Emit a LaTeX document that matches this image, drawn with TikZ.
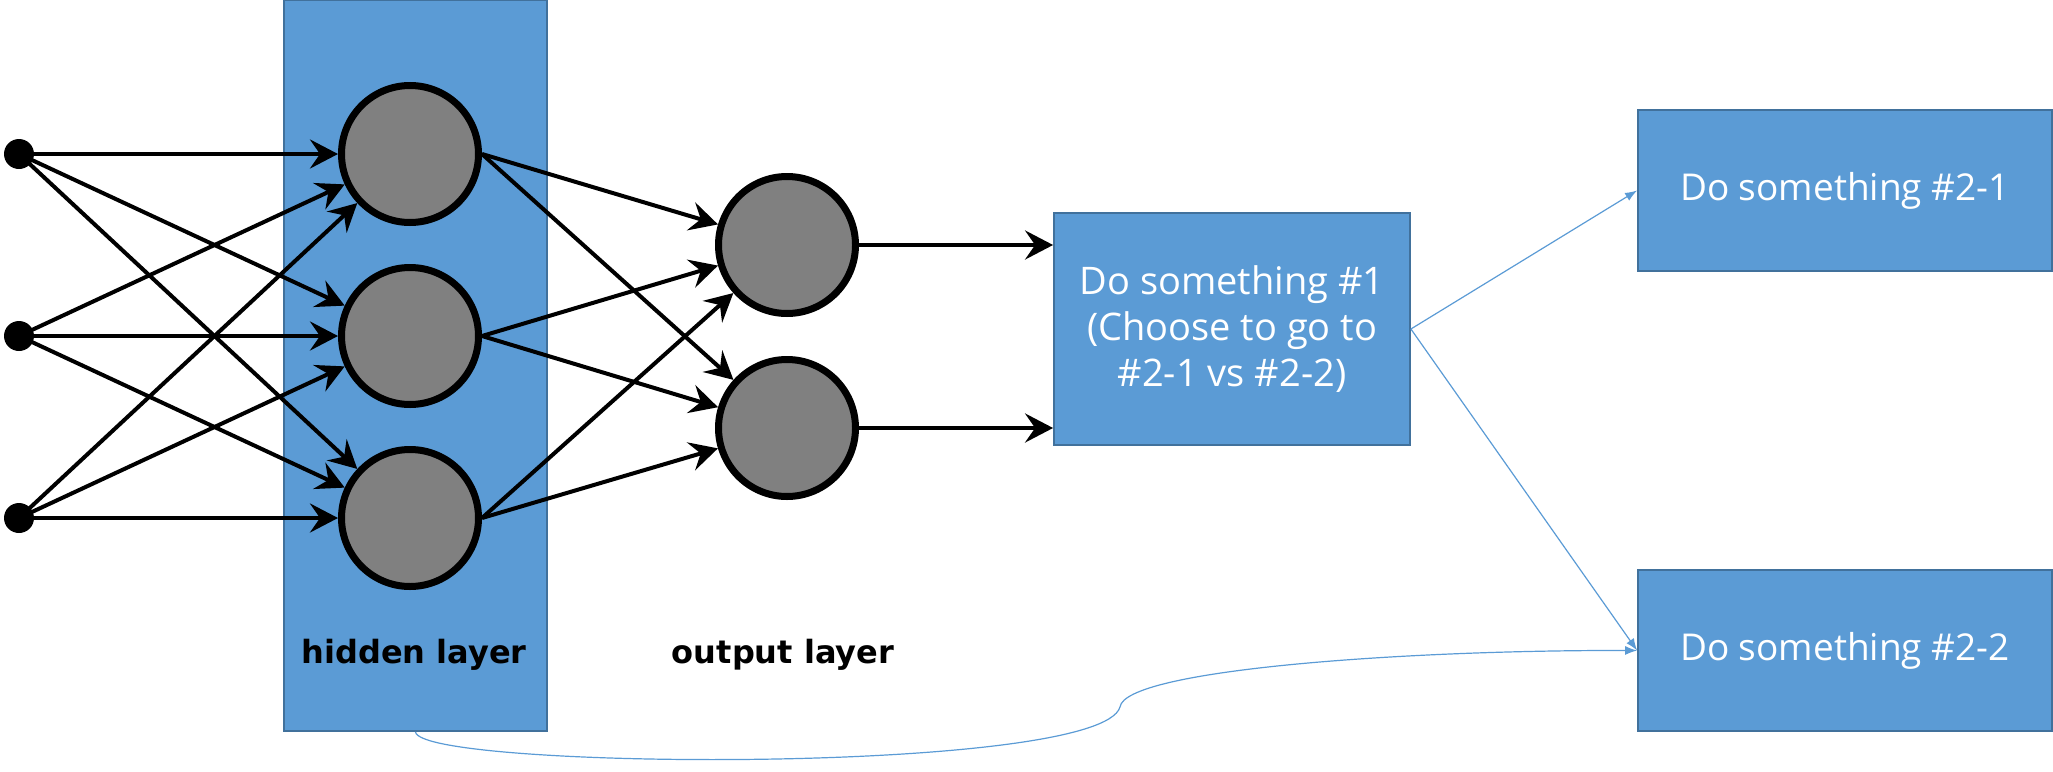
\documentclass[tikz,border=0pt]{standalone}
\usepackage{fontspec}
\setmainfont{Open Sans}
\newfontfamily\lblfont{DejaVu Sans}
\usetikzlibrary{arrows.meta}
\definecolor{boxblue}{HTML}{5B9BD5}
\definecolor{boxedge}{HTML}{41719C}
\definecolor{nodegray}{HTML}{808080}
\begin{document}
\begin{tikzpicture}[x=1pt,y=-1pt,
  neuron/.style={circle,draw=black,fill=nodegray,line width=7pt,minimum size=137pt,inner sep=0pt},
  inp/.style={circle,fill=black,minimum size=30pt,inner sep=0pt},
  conn/.style={line width=4pt,-{Stealth[length=28pt,width=29pt,inset=10pt]}},
  bluebox/.style={rectangle,draw=boxedge,fill=boxblue,line width=1.8pt,inner sep=0pt},
  boxtext/.style={text=white,font=\fontsize{37}{46}\selectfont,align=center},
  bluelink/.style={draw=boxblue,line width=1.2pt,-{Latex[length=12pt,width=9pt]}},
  lbl/.style={font=\lblfont\bfseries\fontsize{32}{38}\selectfont}
]
\useasboundingbox (0,0) rectangle (2053,771);
% hidden layer background
\node[bluebox,minimum width=263pt,minimum height=731pt] (hid) at (415.5,365.5) {};
% boxes
\node[bluebox,boxtext,font=\fontsize{38}{46}\selectfont,minimum width=356pt,minimum height=232pt] (b1) at (1232,329)
  {Do something \#1\\(Choose to go to\\\#2-1 vs \#2-2)};
\node[bluebox,boxtext,minimum width=414pt,minimum height=161pt] (b21) at (1845,190.5) {Do something \#2-1};
\node[bluebox,boxtext,minimum width=414pt,minimum height=161pt] (b22) at (1845,650.5) {Do something \#2-2};
% inputs
\node[inp] (i1) at (19,154) {};
\node[inp] (i2) at (19,336) {};
\node[inp] (i3) at (19,518) {};
% hidden neurons
\node[neuron] (h1) at (410,154) {};
\node[neuron] (h2) at (410,336) {};
\node[neuron] (h3) at (410,518) {};
% output neurons
\node[neuron] (o1) at (787,245) {};
\node[neuron] (o2) at (787,428) {};
% labels
\node[lbl] (lh) at (414,655) {hidden layer};
\node[lbl] (lo) at (783,655) {output layer};
% connections
\foreach \i in {1,2,3}{\foreach \h in {1,2,3}{\draw[conn] (i\i.center) -- (h\h);}}
\foreach \h in {1,2,3}{\foreach \o in {1,2}{\draw[conn] (h\h.east) -- (o\o);}}
\draw[conn] (o1) -- (o1 -| b1.west);
\draw[conn] (o2) -- (o2 -| b1.west);
% blue links
\draw[bluelink] (b1.east) -- (b21.west);
\draw[bluelink] (b1.east) -- (b22.west);
\coordinate (bend) at (1120,707);
\draw[bluelink] (hid.south) .. controls (420,770) and (1100,775) .. (bend)
  .. controls (1125,670) and (1400,650) .. (b22.west);
\end{tikzpicture}
\end{document}
